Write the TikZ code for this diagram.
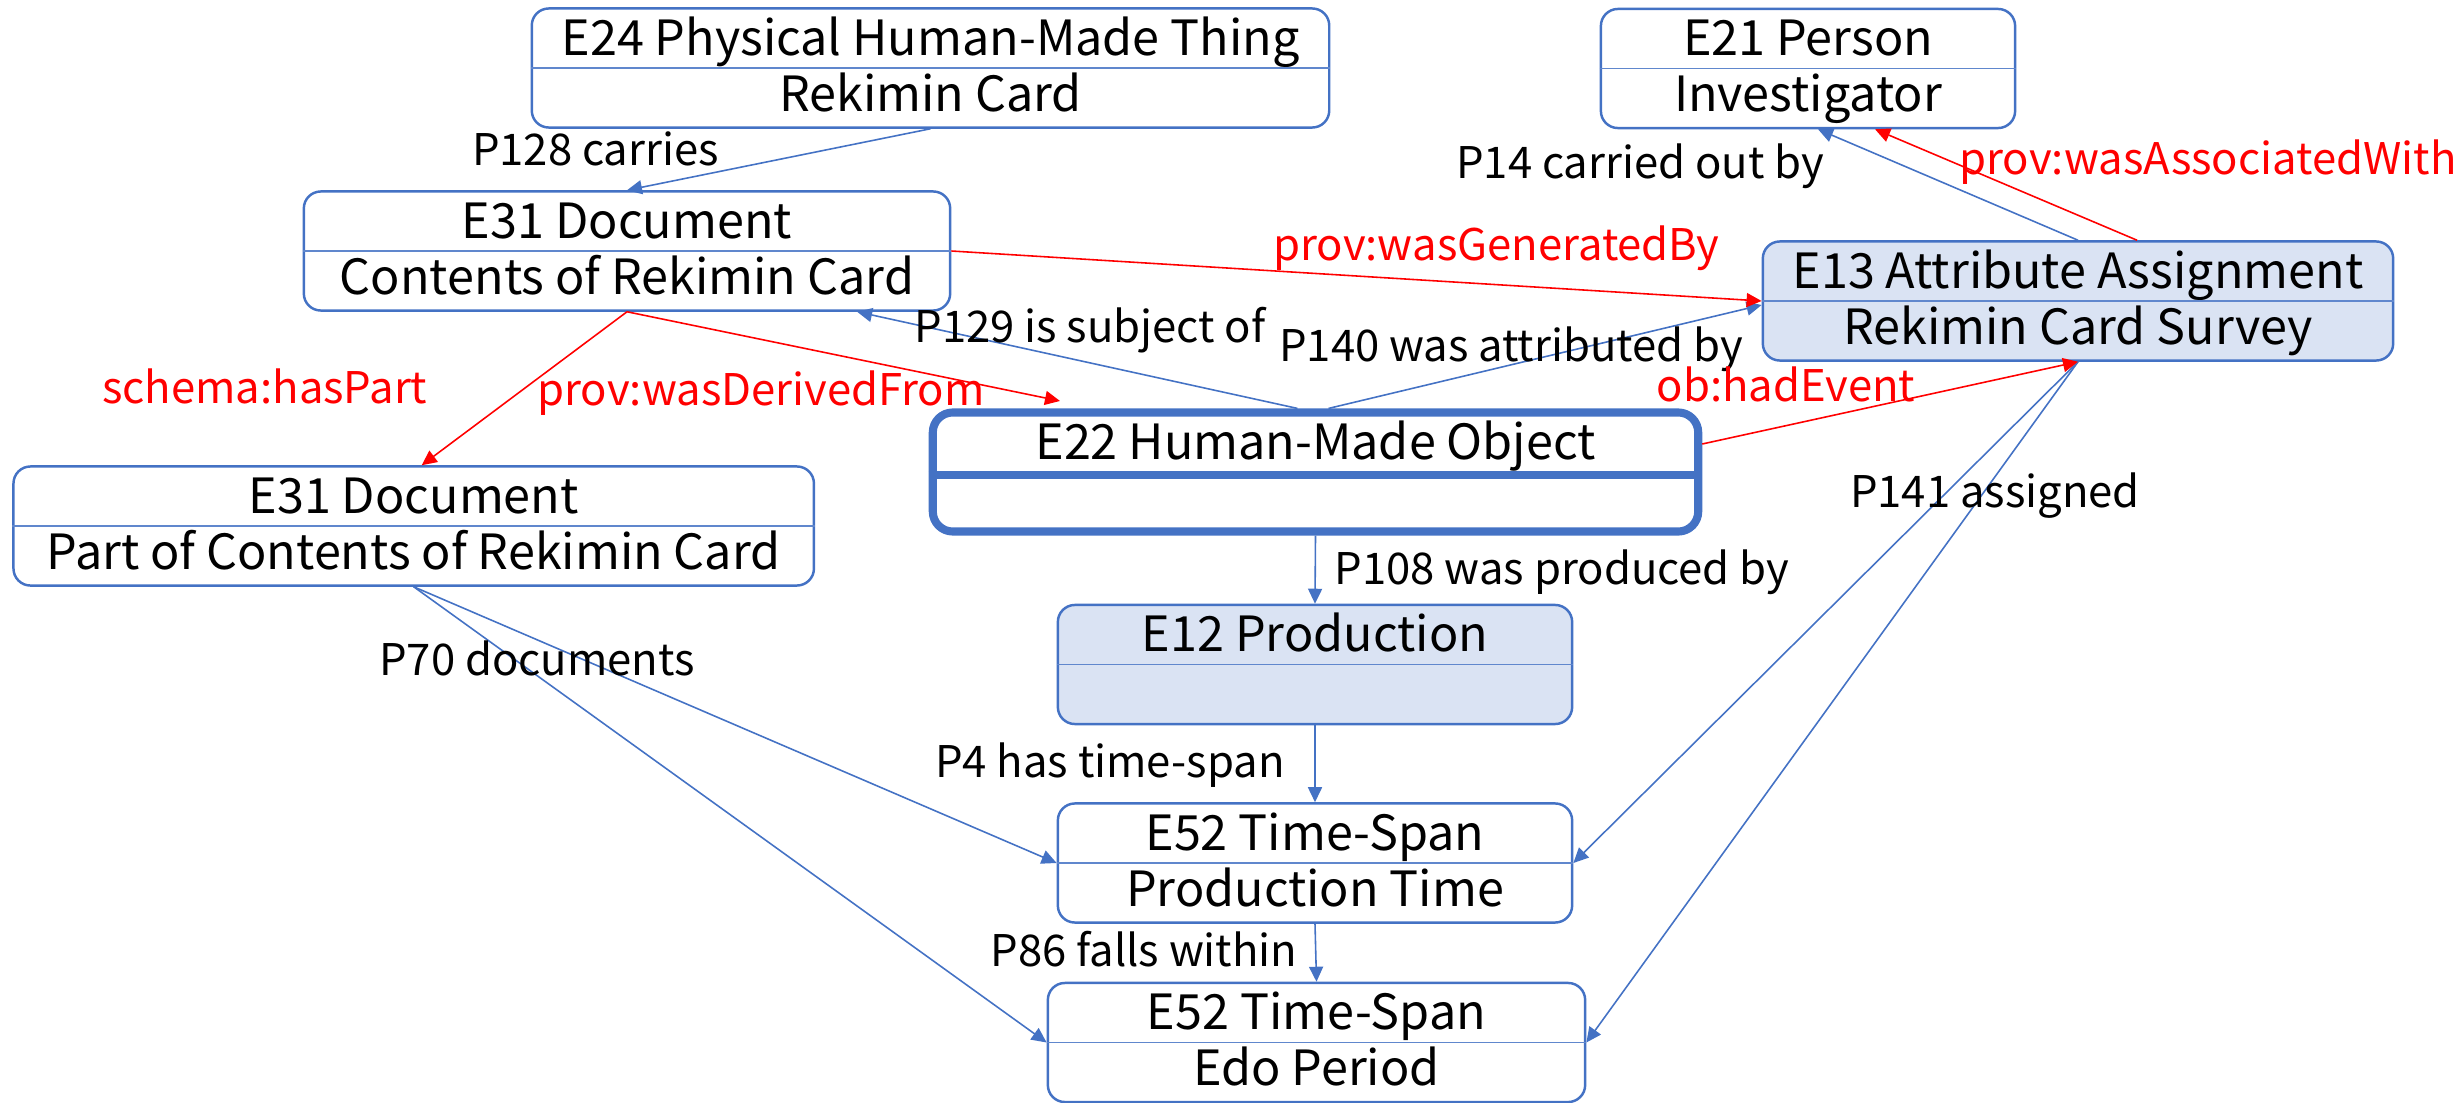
\documentclass[tikz,border=0pt]{standalone}
\usepackage{fontspec}
\setmainfont{Noto Sans CJK JP}
\usetikzlibrary{arrows.meta}

\definecolor{cblue}{HTML}{4472C4}
\definecolor{cfill}{HTML}{DAE3F3}
\definecolor{cred}{HTML}{FF0000}

\newcommand{\rowstrut}{\rule[-3.5pt]{0pt}{15.8pt}}
\newcommand{\tworows}[2]{\rowstrut #1\\\rowstrut #2}

\tikzset{
	entity/.style={draw=cblue, line width=0.7pt, rounded corners=0.17cm, minimum height=1.19cm, inner sep=0pt, align=center, font=\fontsize{13.8}{15.93}\selectfont},
	event/.style={entity, fill=cfill},
	focus/.style={entity, line width=2.3pt, rounded corners=0.2cm},
	divider/.style={cblue!85!white, line width=0.45pt},
	crmlabel/.style={anchor=base, inner sep=0pt, font=\fontsize{12.4}{14}\selectfont},
	extlabel/.style={crmlabel, text=cred},
	crmedge/.style={->, cblue, line width=0.45pt},
	extedge/.style={->, cred, line width=0.45pt}
}

\begin{document}
\begin{tikzpicture}[x=0.01cm, y=-0.01cm, >={Triangle[length=0.15cm,width=0.14cm]}]
	\useasboundingbox (0,0) rectangle (2463,1103);

	%entities
	\node[entity, minimum width=7.97cm] (thing) at (930.5,68) {\tworows{E24 Physical Human-Made Thing}{Rekimin Card}};
	\node[entity, minimum width=4.14cm] (person) at (1808,68.5) {\tworows{E21 Person}{Investigator}};
	\node[entity, minimum width=6.46cm] (doc) at (627,251) {\tworows{E31 Document}{Contents of Rekimin Card}};
	\node[event, minimum width=6.30cm] (assign) at (2078,301) {\tworows{E13 Attribute Assignment}{Rekimin Card Survey}};
	\node[entity, minimum width=8.00cm] (docpart) at (413.7,526) {\tworows{E31 Document}{Part of Contents of Rekimin Card}};
	\node[focus, minimum width=7.65cm] (object) at (1315.5,472) {\tworows{E22 Human-Made Object}{}};
	\node[event, minimum width=5.14cm] (prod) at (1315,664.5) {\tworows{E12 Production}{}};
	\node[entity, minimum width=5.14cm] (span) at (1315,863) {\tworows{E52 Time-Span}{Production Time}};
	\node[entity, minimum width=5.37cm] (edo) at (1316.5,1042.5) {\tworows{E52 Time-Span}{Edo Period}};

	%row dividers
	\foreach \n in {thing,person,doc,assign,docpart,prod,span,edo}
	\draw[divider] (\n.west) -- (\n.east);
	\draw[cblue, line width=2.3pt] ([yshift=-0.03cm]object.west) -- ([yshift=-0.03cm]object.east);

	%CIDOC CRM properties
	\draw[crmedge] (thing.south) -- (doc.north);
	\draw[crmedge] (assign.north) -- ([xshift=0.1cm]person.south);
	\draw[crmedge] ([xshift=-0.18cm]object.north) -- ([xshift=2.3cm]doc.south);
	\draw[crmedge] ([xshift=0.13cm]object.north) -- ([yshift=-0.04cm]assign.west);
	\draw[crmedge] (object.south) -- (prod.north);
	\draw[crmedge] (prod.south) -- (span.north);
	\draw[crmedge] (span.south) -- (edo.north);
	\draw[crmedge] (docpart.south) -- (span.west);
	\draw[crmedge] (docpart.south) -- (edo.west);
	\draw[crmedge] (assign.south) -- (span.east);
	\draw[crmedge] (assign.south) -- (edo.east);

	%prov, schema and ob
	\coordinate (derived) at (1060,401);
	\draw[extedge] ([xshift=0.59cm]assign.north) -- ([xshift=0.67cm]person.south);
	\draw[extedge] (doc.east) -- (assign.west);
	\draw[extedge] (doc.south) -- ([xshift=0.08cm]docpart.north);
	\draw[extedge] (doc.south) -- (derived);
	\draw[extedge] ([yshift=0.28cm]object.east) -- (assign.south);

	%labels
	\node[crmlabel] (carries) at (595.5,165.6) {P128 carries};
	\node[crmlabel] (carriedby) at (1640,178) {P14 carried out by};
	\node[crmlabel] (subject) at (1090,342.5) {P129 is subject of};
	\node[crmlabel] (attributed) at (1511,361.6) {P140 was attributed by};
	\node[crmlabel] (assigned) at (1995,507) {P141 assigned};
	\node[crmlabel] (produced) at (1562,584.6) {P108 was produced by};
	\node[crmlabel] (documents) at (537,675.3) {P70 documents};
	\node[crmlabel] (hastime) at (1110,777) {P4 has time-span};
	\node[crmlabel] (within) at (1144,966) {P86 falls within};
	\node[extlabel] (associated) at (2208,174) {prov:wasAssociatedWith};
	\node[extlabel] (generated) at (1496.5,260) {prov:wasGeneratedBy};
	\node[extlabel] (haspart) at (264.8,403.7) {schema:hasPart};
	\node[extlabel] (derivedfrom) at (761,405.5) {prov:wasDerivedFrom};
	\node[extlabel] (hadevent) at (1786,401.7) {ob:hadEvent};
\end{tikzpicture}
\end{document}
